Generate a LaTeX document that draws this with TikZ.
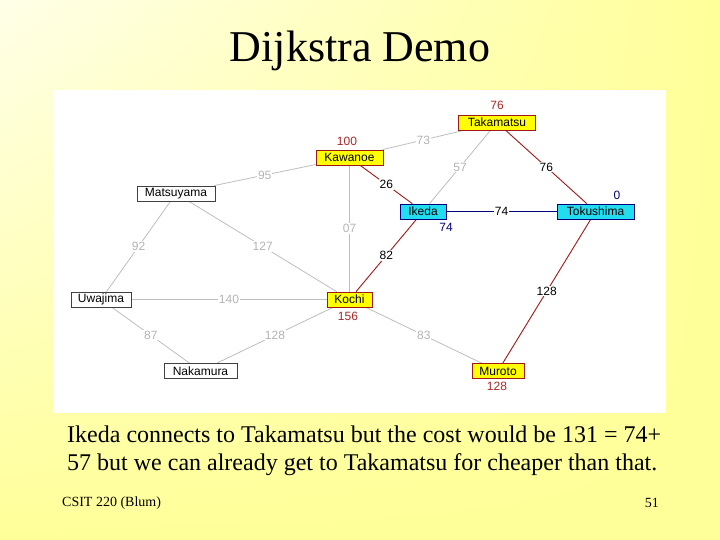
\documentclass[tikz,border=0pt]{standalone}
\usepackage{fontspec}
\setmainfont{Liberation Serif}
\newfontfamily\arialfont{Liberation Sans}
\usetikzlibrary{backgrounds,shadings}
\pgfdeclarelayer{panel}
\pgfsetlayers{panel,background,main}
\definecolor{bgyel}{HTML}{FFFF99}
\definecolor{bglight}{HTML}{FFFFE8}
\definecolor{boxyel}{HTML}{FFFF00}
\definecolor{boxcyan}{HTML}{22DDF0}
\definecolor{redline}{HTML}{A01818}
\definecolor{redlab}{HTML}{A82828}
\definecolor{navy}{HTML}{000080}
\definecolor{grayline}{HTML}{BEBEBE}
\definecolor{graylab}{HTML}{B4B4B4}
\tikzset{
  city/.style={draw=black!75, fill=white, line width=0.7pt, inner sep=0pt,
    minimum height=15pt, font=\arialfont\fontsize{12}{12}\selectfont},
  cityyel/.style={city, draw=redline, fill=boxyel},
  citycyan/.style={city, draw=navy, fill=boxcyan},
  dist/.style={font=\arialfont\fontsize{12}{12}\selectfont, text=redlab, inner sep=0pt},
  distblue/.style={dist, text=navy},
  gedge/.style={draw=grayline, line width=0.8pt},
  redge/.style={draw=redline, line width=0.9pt},
  bedge/.style={draw=navy, line width=0.9pt},
  wlab/.style={fill=white, inner sep=1pt, font=\arialfont\fontsize{12}{12}\selectfont},
  glab/.style={wlab, text=graylab},
  klab/.style={wlab, text=black},
}
\begin{document}
\begin{tikzpicture}[x=1pt,y=-1pt]
\useasboundingbox (0,0) rectangle (720,540);
\begin{pgfonlayer}{panel}
\shade[upper left=bglight, upper right=bgyel, lower left=bgyel, lower right=bgyel] (0,0) rectangle (720,540);
\fill[white] (53,90) rectangle (666,413);
\end{pgfonlayer}

\node[font=\fontsize{44}{48}\selectfont, anchor=base] (title) at (360,62) {Dijkstra Demo};

% cities
\node[cityyel, minimum width=77pt] (tak) at (497,122.5) {Takamatsu};
\node[cityyel, minimum width=67pt] (kaw) at (349.5,157.5) {Kawanoe};
\node[city, minimum width=78pt] (mat) at (176,193.5) {Matsuyama};
\node[citycyan, minimum width=46pt] (ike) at (423,211.5) {Ikeda};
\node[citycyan, minimum width=77pt] (tok) at (595.5,211.5) {Tokushima};
\node[city, minimum width=60pt] (uwa) at (101,299.5) {Uwajima};
\node[cityyel, minimum width=45pt] (koc) at (349.5,299.5) {Kochi};
\node[city, minimum width=73pt] (nak) at (200.5,371) {Nakamura};
\node[cityyel, minimum width=52pt] (mur) at (498,371) {Muroto};

% distances
\node[dist] (dtak) at (497,105) {76};
\node[dist] (dkaw) at (347,141.5) {100};
\node[distblue] (dtok) at (617,195) {0};
\node[distblue] (dike) at (446,227) {74};
\node[dist] (dkoc) at (348,316) {156};
\node[dist] (dmur) at (497,386.5) {128};

% edges
\begin{scope}[on background layer]
\path[gedge] (kaw) -- node[glab] {73} (tak);
\path[gedge] (mat) -- node[glab] {95} (kaw);
\path[redge] (kaw) -- node[klab] {26} (ike);
\path[gedge] (tak) -- node[glab] {57} (ike);
\path[redge] (tak) -- node[klab] {76} (tok);
\path[bedge] (ike) -- node[klab] {74} (tok);
\path[gedge] (kaw) -- node[glab] {07} (koc);
\path[redge] (ike) -- node[klab] {82} (koc);
\path[gedge] (mat) -- node[glab] {92} (uwa);
\path[gedge] (mat) -- node[glab] {127} (koc);
\path[gedge] (uwa) -- node[glab] {140} (koc);
\path[gedge] (uwa) -- node[glab] {87} (nak);
\path[gedge] (nak) -- node[glab] {128} (koc);
\path[gedge] (koc) -- node[glab] {83} (mur);
\path[redge] (tok) -- node[klab] {128} (mur);
\end{scope}

\node[anchor=north west, align=left, inner sep=0pt, font=\fontsize{24}{28}\selectfont] (caption) at (67,425.5)
  {Ikeda connects to Takamatsu but the cost would be 131 = 74+\\57 but we can already get to Takamatsu for cheaper than that.};
\node[anchor=west, inner sep=0pt, font=\fontsize{14}{16}\selectfont] (foot) at (62,503) {CSIT 220 (Blum)};
\node[anchor=east, inner sep=0pt, font=\fontsize{14}{16}\selectfont] (page) at (659,503) {51};
\end{tikzpicture}
\end{document}
